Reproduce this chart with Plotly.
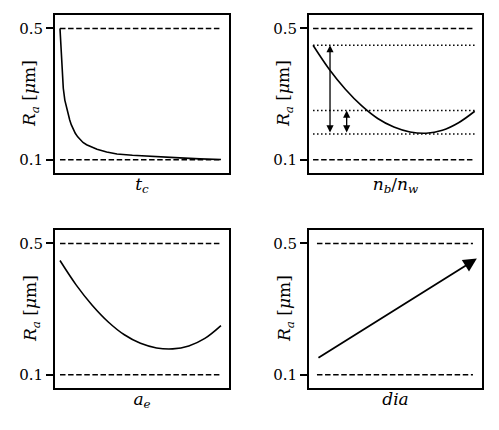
import plotly.graph_objects as go

# values (x normalised 0..1 on each panel)
tc_x = [0, 0.004, 0.0106, 0.015, 0.0205, 0.03, 0.0416, 0.05, 0.06, 0.07, 0.081, 0.095,
        0.11, 0.125, 0.143, 0.165, 0.19, 0.23, 0.29, 0.354, 0.45, 0.54, 0.65, 0.745, 0.87, 1.0]
tc_ra = [0.5, 0.46, 0.405, 0.357, 0.318, 0.282, 0.255, 0.238, 0.222, 0.207, 0.194, 0.181,
         0.17, 0.161, 0.153, 0.146, 0.14, 0.132, 0.124, 0.118, 0.114, 0.111, 0.108, 0.106, 0.103, 0.101]

nb_x = [0, 0.1, 0.2, 0.3, 0.4, 0.5, 0.6, 0.7, 0.8, 0.9, 1.0]
nb_ra = [0.449, 0.376, 0.315, 0.265, 0.226, 0.200, 0.185, 0.181, 0.190, 0.213, 0.248]

ae_x = [0, 0.1, 0.2, 0.3, 0.4, 0.5, 0.6, 0.7, 0.8, 0.9, 1.0]
ae_ra = [0.448, 0.374, 0.312, 0.261, 0.222, 0.196, 0.182, 0.179, 0.188, 0.211, 0.250]

dia_x = [0, 1.025]
dia_ra = [0.149, 0.454]

limits = [0.1, 0.5]                   # dashed bounds
nb_levels = [0.449, 0.250, 0.179]     # dotted levels
nb_arrows = [(0.105, 0.449, 0.179), (0.208, 0.250, 0.179)]

xlabels = ["<i>t</i><sub><i>c</i></sub>", "<i>n</i><sub><i>b</i></sub>/<i>n</i><sub><i>w</i></sub>",
           "<i>a</i><sub><i>e</i></sub>", "<i>dia</i>"]
ylabel = "<i>R</i><sub><i>a</i></sub> [<i>μ</i>m]"

FONT = "DejaVu Serif"
W, H = 499, 430
OFF = 8  # page body margin

# plot boxes in page pixels: left, right, top, bottom
boxes = [(55, 229, 15, 173), (309, 482, 15, 173), (55, 229, 230, 388), (309, 482, 230, 388)]
xranges = [[-0.031, 1.05], [-0.025, 1.045], [-0.031, 1.05], [-0.051, 1.058]]

fig = go.Figure()

for i, (l, r, t, b) in enumerate(boxes):
    l, r, t, b = l - OFF, r - OFF, t - OFF, b - OFF
    n = "" if i == 0 else str(i + 1)
    xa, ya = "x" + n, "y" + n
    fig.update_layout(**{
        "xaxis" + n: dict(domain=[l / W, r / W], range=xranges[i], anchor=ya,
                          showticklabels=False, ticks="", showgrid=False, zeroline=False,
                          showline=True, mirror=True, linecolor="black", linewidth=2,
                          title=dict(text=xlabels[i], standoff=4,
                                     font=dict(family=FONT, size=17, color="black"))),
        "yaxis" + n: dict(domain=[1 - b / H, 1 - t / H], range=[0.060, 0.541], anchor=xa,
                          tickvals=limits, ticktext=["0.1", "0.5"], ticks="outside",
                          ticklen=7, tickwidth=1.5, tickcolor="black",
                          showgrid=False, zeroline=False,
                          showline=True, mirror=True, linecolor="black", linewidth=2,
                          tickfont=dict(family=FONT, size=15, color="black")),
    })
    fig.add_annotation(text=ylabel, xref="paper", yref="paper", x=(l - 24) / W,
                       y=1 - (t + b) / 2 / H, xanchor="center", yanchor="middle",
                       textangle=-90, showarrow=False,
                       font=dict(family=FONT, size=17, color="black"))
    for lv in limits:
        fig.add_trace(go.Scatter(x=[0, 1], y=[lv, lv], mode="lines", xaxis=xa, yaxis=ya,
                                 line=dict(color="black", width=1.5, dash="5.5px,2.6px")))

fig.add_trace(go.Scatter(x=tc_x, y=tc_ra, mode="lines", line=dict(color="black", width=1.6),
                         xaxis="x", yaxis="y"))

for lv in nb_levels:
    fig.add_trace(go.Scatter(x=[0, 1], y=[lv, lv], mode="lines", xaxis="x2", yaxis="y2",
                             line=dict(color="black", width=1.5, dash="1.5px,2.5px")))
fig.add_trace(go.Scatter(x=nb_x, y=nb_ra, mode="lines", line=dict(color="black", width=1.6, shape="spline"),
                         xaxis="x2", yaxis="y2"))
for ax_x, y_top, y_bot in nb_arrows:
    fig.add_annotation(x=ax_x, y=y_top, ax=ax_x, ay=y_bot, xref="x2", yref="y2",
                       axref="x2", ayref="y2", showarrow=True, arrowhead=2, arrowcolor="black",
                       arrowside="end+start", arrowsize=1.1, arrowwidth=1.3, text="")

fig.add_trace(go.Scatter(x=ae_x, y=ae_ra, mode="lines", line=dict(color="black", width=1.6, shape="spline"),
                         xaxis="x3", yaxis="y3"))

fig.add_annotation(x=dia_x[1], y=dia_ra[1], ax=dia_x[0], ay=dia_ra[0], xref="x4", yref="y4",
                   axref="x4", ayref="y4", showarrow=True, arrowhead=2, arrowsize=1.5,
                   arrowcolor="black", arrowwidth=1.8, text="")

fig.update_layout(width=W, height=H, margin=dict(l=0, r=0, t=0, b=0),
                  paper_bgcolor="white", plot_bgcolor="white", showlegend=False)

fig.write_html("out.html")
